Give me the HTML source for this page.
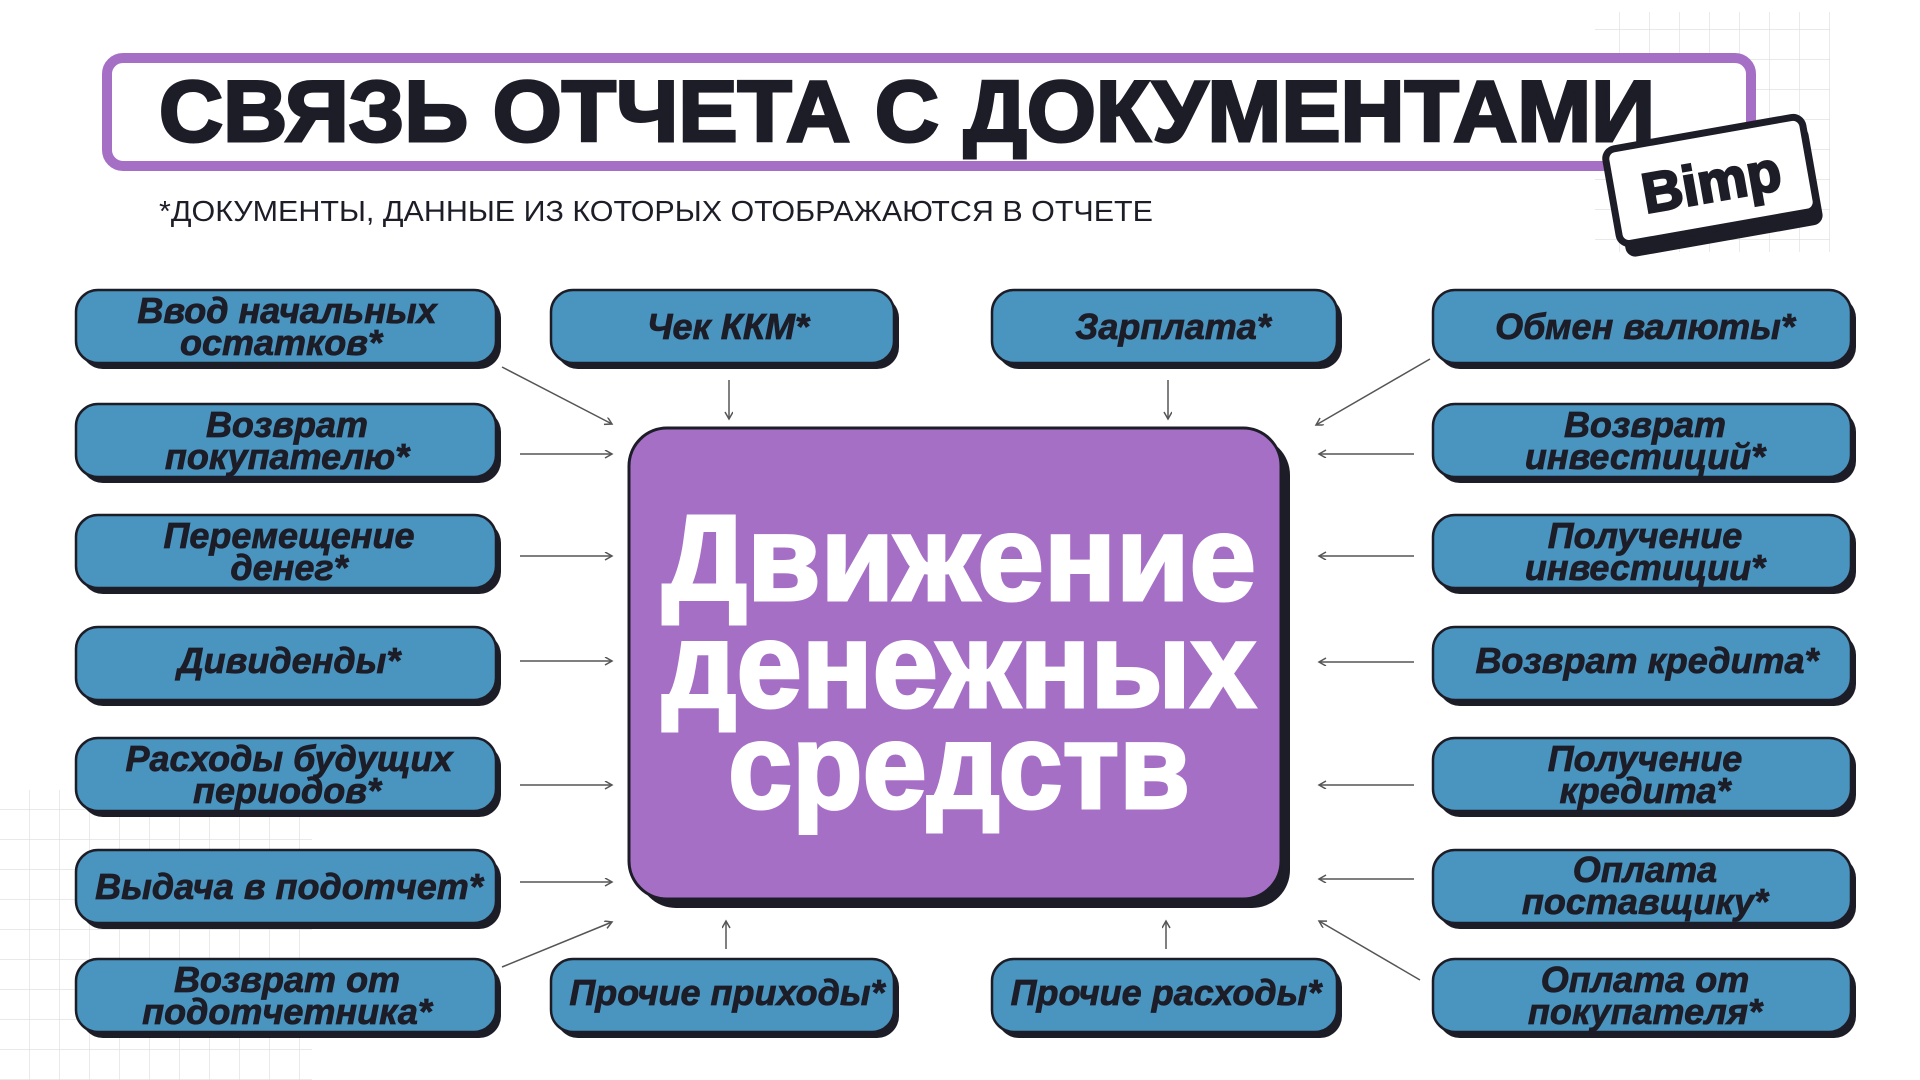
<!DOCTYPE html>
<html><head><meta charset="utf-8"><style>
html,body{margin:0;padding:0;background:#fff;}
svg{display:block;}
.bx{font-family:"Liberation Sans","DejaVu Sans",sans-serif;font-weight:bold;font-style:italic;font-size:36px;fill:#1d1d28;stroke:#1d1d28;stroke-width:0.8;text-anchor:middle;}
</style></head><body>
<svg width="1920" height="1080" viewBox="0 0 1920 1080" xmlns="http://www.w3.org/2000/svg">
<defs>
<pattern id="g" width="30" height="30" patternUnits="userSpaceOnUse"><path d="M30 0V30M0 30H30" stroke="#dcdcdc" stroke-width="1.2" fill="none"/></pattern>
<marker id="a" markerWidth="10" markerHeight="10" refX="8" refY="4" orient="auto" markerUnits="userSpaceOnUse"><path d="M1 0L8 4L1 8" fill="none" stroke="#555" stroke-width="1.5"/></marker>
</defs>
<rect x="1595" y="12" width="235" height="240" fill="url(#g)"/>
<rect x="0" y="790" width="312" height="290" fill="url(#g)"/>
<rect x="107" y="58" width="1644" height="108" rx="16" fill="#fff" stroke="#a66fc6" stroke-width="10"/>
<text x="159" y="141" font-family="Liberation Sans,sans-serif" font-weight="bold" font-size="86" fill="#1d1d28" stroke="#1d1d28" stroke-width="3" textLength="1496" lengthAdjust="spacingAndGlyphs">СВЯЗЬ ОТЧЕТА С ДОКУМЕНТАМИ</text>
<text x="159" y="221" font-family="Liberation Sans,sans-serif" font-size="29" fill="#1d1d28" textLength="994" lengthAdjust="spacingAndGlyphs">*ДОКУМЕНТЫ, ДАННЫЕ ИЗ КОТОРЫХ ОТОБРАЖАЮТСЯ В ОТЧЕТЕ</text>
<g transform="translate(1714,186) rotate(-10)">
<rect x="-98" y="-44" width="200" height="100" rx="10" fill="#1d1d28"/>
<rect x="-102" y="-54" width="200" height="96" rx="10" fill="#fff" stroke="#1d1d28" stroke-width="7"/>
<text x="-2" y="15" text-anchor="middle" font-family="Liberation Sans,sans-serif" font-weight="bold" font-size="56" fill="#1d1d28" stroke="#1d1d28" stroke-width="2.5">Bimp</text>
</g>
<rect x="638" y="437" width="652" height="471" rx="38" fill="#1d1d28"/>
<rect x="629" y="428" width="652" height="471" rx="38" fill="#a66fc6" stroke="#1d1d28" stroke-width="3"/>
<g font-family="Liberation Sans,sans-serif" font-weight="bold" font-size="122" fill="#fff" stroke="#fff" stroke-width="3" text-anchor="middle">
<text x="959" y="600" textLength="594" lengthAdjust="spacingAndGlyphs">Движение</text>
<text x="959" y="707" textLength="594" lengthAdjust="spacingAndGlyphs">денежных</text>
<text x="959" y="808" textLength="462" lengthAdjust="spacingAndGlyphs">средств</text>
</g>
<g fill="#1d1d28">
<rect x="81" y="296" width="420" height="73" rx="22"/><rect x="81" y="410" width="420" height="73" rx="22"/><rect x="81" y="521" width="420" height="73" rx="22"/><rect x="81" y="633" width="420" height="73" rx="22"/><rect x="81" y="744" width="420" height="73" rx="22"/><rect x="81" y="856" width="420" height="73" rx="22"/><rect x="81" y="965" width="420" height="73" rx="22"/>
<rect x="1438" y="296" width="418" height="73" rx="22"/><rect x="1438" y="410" width="418" height="73" rx="22"/><rect x="1438" y="521" width="418" height="73" rx="22"/><rect x="1438" y="633" width="418" height="73" rx="22"/><rect x="1438" y="744" width="418" height="73" rx="22"/><rect x="1438" y="856" width="418" height="73" rx="22"/><rect x="1438" y="965" width="418" height="73" rx="22"/>
<rect x="556" y="296" width="343" height="73" rx="22"/><rect x="997" y="296" width="345" height="73" rx="22"/><rect x="556" y="965" width="343" height="73" rx="22"/><rect x="997" y="965" width="345" height="73" rx="22"/>
</g>
<g fill="#4a95c0" stroke="#1d1d28" stroke-width="2.5">
<rect x="76" y="290" width="420" height="73" rx="22"/><rect x="76" y="404" width="420" height="73" rx="22"/><rect x="76" y="515" width="420" height="73" rx="22"/><rect x="76" y="627" width="420" height="73" rx="22"/><rect x="76" y="738" width="420" height="73" rx="22"/><rect x="76" y="850" width="420" height="73" rx="22"/><rect x="76" y="959" width="420" height="73" rx="22"/>
<rect x="1433" y="290" width="418" height="73" rx="22"/><rect x="1433" y="404" width="418" height="73" rx="22"/><rect x="1433" y="515" width="418" height="73" rx="22"/><rect x="1433" y="627" width="418" height="73" rx="22"/><rect x="1433" y="738" width="418" height="73" rx="22"/><rect x="1433" y="850" width="418" height="73" rx="22"/><rect x="1433" y="959" width="418" height="73" rx="22"/>
<rect x="551" y="290" width="343" height="73" rx="22"/><rect x="992" y="290" width="345" height="73" rx="22"/><rect x="551" y="959" width="343" height="73" rx="22"/><rect x="992" y="959" width="345" height="73" rx="22"/>
</g>
<g>
<text class="bx" x="287" y="323">Ввод начальных</text><text class="bx" x="281" y="355">остатков*</text>
<text class="bx" x="287" y="437">Возврат</text><text class="bx" x="287" y="469">покупателю*</text>
<text class="bx" x="289" y="548">Перемещение</text><text class="bx" x="289" y="580">денег*</text>
<text class="bx" x="289" y="673">Дивиденды*</text>
<text class="bx" x="289" y="771">Расходы будущих</text><text class="bx" x="287" y="803">периодов*</text>
<text class="bx" x="289" y="899">Выдача в подотчет*</text>
<text class="bx" x="287" y="992">Возврат от</text><text class="bx" x="287" y="1024">подотчетника*</text>
<text class="bx" x="728" y="339">Чек ККМ*</text>
<text class="bx" x="1173" y="339">Зарплата*</text>
<text class="bx" x="727" y="1005">Прочие приходы*</text>
<text class="bx" x="1166" y="1005">Прочие расходы*</text>
<text class="bx" x="1645" y="339">Обмен валюты*</text>
<text class="bx" x="1645" y="437">Возврат</text><text class="bx" x="1645" y="469">инвестиций*</text>
<text class="bx" x="1645" y="548">Получение</text><text class="bx" x="1645" y="580">инвестиции*</text>
<text class="bx" x="1647" y="673">Возврат кредита*</text>
<text class="bx" x="1645" y="771">Получение</text><text class="bx" x="1645" y="803">кредита*</text>
<text class="bx" x="1645" y="882">Оплата</text><text class="bx" x="1645" y="914">поставщику*</text>
<text class="bx" x="1645" y="992">Оплата от</text><text class="bx" x="1645" y="1024">покупателя*</text>
</g>
<g stroke="#555" stroke-width="1.5" fill="none" marker-end="url(#a)">
<path d="M502 367L612 424"/>
<path d="M520 454H612"/><path d="M520 556H612"/><path d="M520 661H612"/><path d="M520 785H612"/><path d="M520 882H612"/>
<path d="M502 967L612 922"/>
<path d="M729 380V419"/><path d="M1168 380V419"/>
<path d="M726 949V921"/><path d="M1166 949V921"/>
<path d="M1430 359L1316 425"/>
<path d="M1414 454H1319"/><path d="M1414 556H1319"/><path d="M1414 662H1319"/><path d="M1414 785H1319"/><path d="M1414 879H1319"/>
<path d="M1420 980L1319 921"/>
</g>
</svg>
</body></html>
